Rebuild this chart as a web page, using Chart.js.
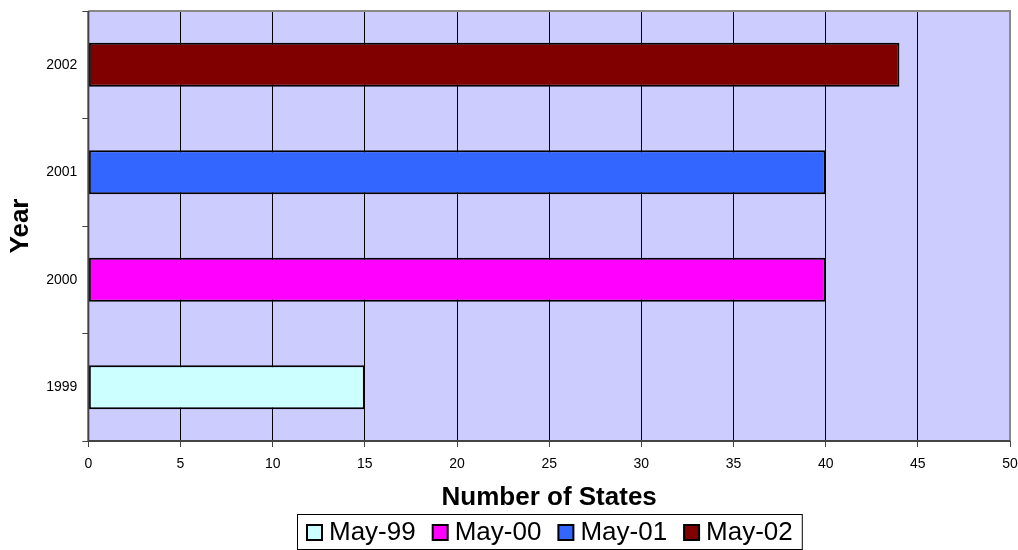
<!DOCTYPE html>
<html>
<head>
<meta charset="utf-8">
<script src="https://cdn.jsdelivr.net/npm/chart.js@4.4.0/dist/chart.umd.min.js"></script>
<style>
  html, body { margin:0; padding:0; background:#fff; }
  #wrap { width:1018px; height:550px; }
</style>
</head>
<body>
<div id="wrap"><canvas id="chart" width="1018" height="550"></canvas></div>
<script>
const years = ['1999', '2000', '2001', '2002'];
const seriesNames = ['May-99', 'May-00', 'May-01', 'May-02'];
const stateCounts = [15, 40, 40, 44];
const barColors = ['#CCFFFF', '#FF00FF', '#3366FF', '#800000'];
const xTicks = [0, 5, 10, 15, 20, 25, 30, 35, 40, 45, 50];

const FONT = 'Arial, "Liberation Sans", sans-serif';

// one dataset per year so each bar keeps its own legend entry
const datasets = seriesNames.map((name, i) => ({
  label: name,
  data: years.map((y, j) => j === i ? stateCounts[i] : null),
  backgroundColor: barColors[i],
  borderColor: '#000',
  borderWidth: 2,
  borderSkipped: false,
  barPercentage: 0.41,
  categoryPercentage: 1.0
}));

// lavender plot background, frame, and an Excel-like boxed legend
const plotBg = {
  id: 'plotBg',
  beforeDraw(c) {
    const a = c.chartArea, ctx = c.ctx;
    ctx.save();
    ctx.fillStyle = '#CCCCFF';
    ctx.fillRect(a.left, a.top, a.right - a.left, a.bottom - a.top);
    ctx.restore();
  },
  afterDraw(c) {
    const a = c.chartArea, ctx = c.ctx;
    ctx.save();
    ctx.strokeStyle = '#888';
    ctx.lineWidth = 2;
    ctx.beginPath();
    ctx.moveTo(a.left, a.top); ctx.lineTo(a.right, a.top); ctx.lineTo(a.right, a.bottom);
    ctx.stroke();
    ctx.strokeStyle = '#444';
    ctx.beginPath();
    ctx.moveTo(a.left, a.top); ctx.lineTo(a.left, a.bottom); ctx.lineTo(a.right, a.bottom);
    ctx.stroke();

    // legend
    ctx.font = '26px ' + FONT;
    ctx.textBaseline = 'middle';
    const box = 15, gap = 6, itemGap = 16, pad = 9;
    const ds = c.data.datasets;
    const widths = ds.map(d => ctx.measureText(d.label).width);
    const total = widths.reduce((s, w) => s + w, 0) + ds.length * (box + 2 + gap) + (ds.length - 1) * itemGap + pad * 2;
    const cx = (a.left + a.right) / 2;
    const left = Math.round(cx - total / 2), top = 514, h = 35;
    ctx.strokeStyle = '#000';
    ctx.lineWidth = 1;
    ctx.strokeRect(left + 0.5, top + 0.5, total, h);
    let x = left + pad;
    const midY = top + h / 2 + 1;
    ds.forEach((d, i) => {
      ctx.fillStyle = d.backgroundColor;
      ctx.fillRect(x + 1, midY - box / 2, box, box);
      ctx.strokeStyle = '#000';
      ctx.lineWidth = 2;
      ctx.strokeRect(x + 1, midY - box / 2, box, box);
      x += box + 2 + gap;
      ctx.fillStyle = '#000';
      ctx.fillText(d.label, x, midY);
      x += widths[i] + itemGap;
    });
    ctx.restore();
  }
};

new Chart(document.getElementById('chart').getContext('2d'), {
  type: 'bar',
  data: { labels: years, datasets },
  plugins: [plotBg],
  options: {
    indexAxis: 'y',
    responsive: false,
    animation: false,
    layout: { padding: { left: 5, right: 8, top: 11, bottom: 35 } },
    plugins: {
      tooltip: { enabled: false },
      legend: { display: false }
    },
    scales: {
      x: {
        min: 0, max: 50,
        afterBuildTicks: ax => { ax.ticks = xTicks.map(v => ({ value: v })); },
        afterFit: ax => { ax.paddingLeft = 0; ax.paddingRight = 0; },
        grid: { color: '#000', lineWidth: 1, tickLength: 6, tickColor: '#444' },
        border: { display: false },
        ticks: { color: '#000', font: { family: FONT, size: 14 }, padding: 9 },
        title: {
          display: true, text: 'Number of States', color: '#000',
          font: { family: FONT, size: 26, weight: 'bold' },
          padding: { top: 0, bottom: 2 }
        }
      },
      y: {
        reverse: true,
        stacked: true,
        afterFit: ax => { ax.paddingTop = 0; ax.paddingBottom = 0; },
        grid: { offset: true, drawOnChartArea: false, tickLength: 6, tickColor: '#444' },
        border: { display: false },
        ticks: { color: '#000', font: { family: FONT, size: 14 }, padding: 5 },
        title: {
          display: true, text: 'Year', color: '#000',
          font: { family: FONT, size: 26, weight: 'bold' },
          padding: { top: 0, bottom: 5 }
        }
      }
    }
  }
});
</script>
</body>
</html>
